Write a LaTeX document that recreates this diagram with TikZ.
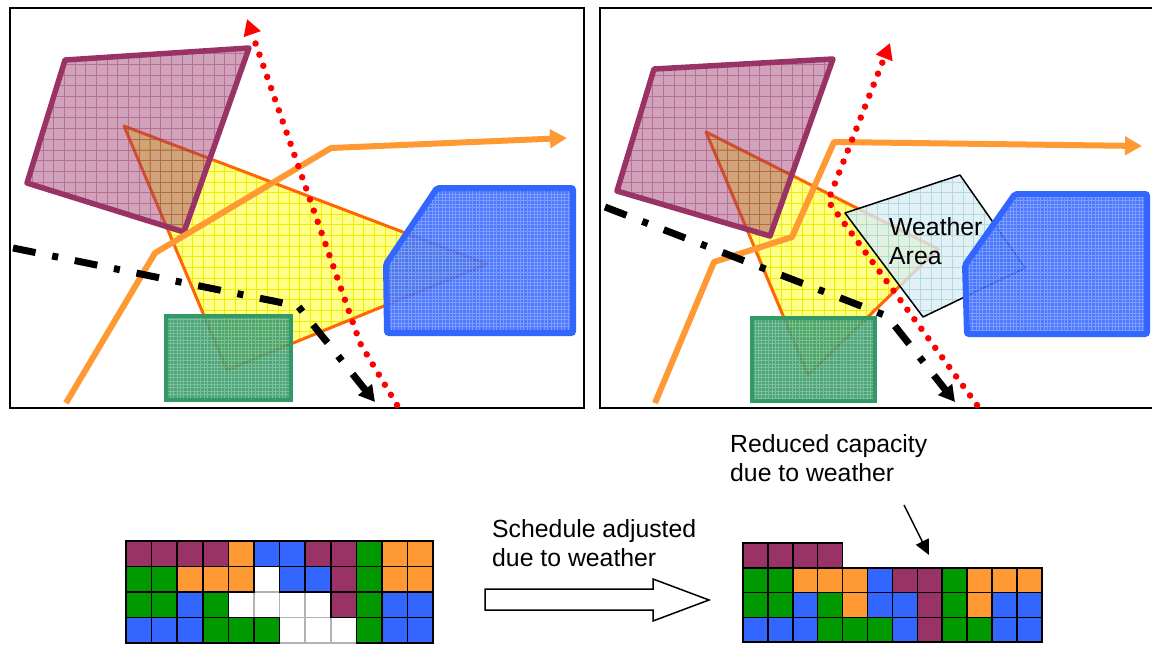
\documentclass[tikz,border=0pt]{standalone}
\usepackage{fontspec}
\setmainfont{Liberation Sans}
\usetikzlibrary{arrows.meta}

\definecolor{plum}{HTML}{993366}
\definecolor{routeorange}{HTML}{FF9933}
\definecolor{zoneorange}{HTML}{FF6600}
\definecolor{skyblue}{HTML}{3366FF}
\definecolor{leaf}{HTML}{009900}
\definecolor{sea}{HTML}{339966}
\definecolor{paleyellow}{HTML}{FFFF88}
\definecolor{gridyellow}{HTML}{EEEE00}
\definecolor{wxfill}{HTML}{DAEEF3}
\definecolor{wxgrid}{HTML}{A8D4DC}

% fill a closed path with a colour and a clipped grid texture
\newcommand\meshfill[6]{%
  \begin{scope}
    \clip #1;
    \fill[#2] #1;
    \draw[#3] #5 grid[step=#4] #6;
  \end{scope}}

\tikzset{
  panel/.style={draw=black, line width=1.5pt},
  lbl/.style={anchor=base west, inner sep=0pt, font=\fontsize{24.8}{29}\selectfont},
  plumedge/.style={draw=plum, line width=5.5pt, line join=round},
  zoneedge/.style={draw=zoneorange, line width=3pt, line join=round},
  seaedge/.style={draw=sea, line width=4.5pt},
  blueedge/.style={draw=skyblue, line width=6pt, rounded corners=2pt},
  wxedge/.style={draw=black, line width=1.5pt, line join=round},
  route/.style={draw=routeorange, line width=6pt, line join=round,
    -{Triangle[length=17pt,width=18pt]}},
  dashdot/.style={draw=black, line width=7pt,
    dash pattern=on 23pt off 17pt on 6pt off 17pt,
    -{Triangle[length=16pt,width=17pt]}},
  reddots/.style={draw=red, line width=6.5pt, line cap=round,
    dash pattern=on 0pt off 11.8pt,
    -{Triangle[length=16pt,width=17pt]}},
  % schedule cells: fill pass and edge pass
  fP/.style={fill=plum}, fO/.style={fill=routeorange},
  fB/.style={fill=skyblue}, fG/.style={fill=leaf},
  fW/.style={fill=white}, fN/.style={},
  eP/.style={draw=black}, eO/.style={draw=black},
  eB/.style={draw=black}, eG/.style={draw=black},
  eW/.style={}, eN/.style={},
}

\begin{document}
\begin{tikzpicture}[x=1pt, y=-1pt]
\useasboundingbox (0,0) rectangle (1152,646);
\fill[white] (0,0) rectangle (1152,646);

% ---------------- left map ----------------
\draw[panel] (10,8) rectangle (584,408);

\coordinate (zA1) at (124,126); \coordinate (zA2) at (487,264); \coordinate (zA3) at (227,370);
\meshfill{(zA1) -- (zA2) -- (zA3) -- cycle}{paleyellow}{gridyellow, line width=0.8pt}{10.7pt}{(110,110)}{(500,380)}
\draw[zoneedge] (zA1) -- (zA2) -- (zA3) -- cycle;

\coordinate (pA1) at (65,60); \coordinate (pA2) at (249,48); \coordinate (pA3) at (184,232); \coordinate (pA4) at (27,183);
\meshfill{(pA1) -- (pA2) -- (pA3) -- (pA4) -- cycle}{plum, fill opacity=0.45}{plum, line width=0.6pt, opacity=0.45}{10.7pt}{(20,40)}{(260,240)}
\draw[plumedge] (pA1) -- (pA2) -- (pA3) -- (pA4) -- cycle;

\coordinate (gA1) at (166,316); \coordinate (gA2) at (291,400);
\meshfill{(gA1) rectangle (gA2)}{sea, fill opacity=0.88}{white, line width=0.6pt, opacity=0.28}{3.4pt}{(160,310)}{(300,405)}
\draw[seaedge] (gA1) rectangle (gA2);

\coordinate (bA1) at (437,188); \coordinate (bA2) at (573,188); \coordinate (bA3) at (573,333);
\coordinate (bA4) at (387,333); \coordinate (bA5) at (386,264);
\meshfill{(bA1) -- (bA2) -- (bA3) -- (bA4) -- (bA5) -- cycle}{skyblue, fill opacity=0.88}{white, line width=0.6pt, opacity=0.28}{3.4pt}{(380,180)}{(580,340)}
\draw[blueedge] (bA1) -- (bA2) -- (bA3) -- (bA4) -- (bA5) -- cycle;

\coordinate (rA0) at (66,403); \coordinate (rA1) at (155,253); \coordinate (rA2) at (331,148); \coordinate (rA3) at (567,138);
\draw[route] (rA0) -- (rA1) -- (rA2) -- (rA3);

\coordinate (kA0) at (13,248); \coordinate (kA1) at (298,306); \coordinate (kA2) at (375,402);
\draw[dashdot] (kA0) -- (kA1) -- (kA2);

\coordinate (dA0) at (397,405); \coordinate (dA1) at (360,343); \coordinate (dA2) at (247,19);
\draw[reddots] (dA0) -- (dA1) -- (dA2);

% ---------------- right map ----------------
\draw[panel] (600,8) rectangle (1153,408);

\coordinate (zB1) at (706,132); \coordinate (zB2) at (938,249); \coordinate (zB3) at (808,375);
\meshfill{(zB1) -- (zB2) -- (zB3) -- cycle}{paleyellow}{gridyellow, line width=0.8pt}{10.7pt}{(690,120)}{(950,380)}
\draw[zoneedge] (zB1) -- (zB2) -- (zB3) -- cycle;

\coordinate (pB1) at (654,69); \coordinate (pB2) at (833,59); \coordinate (pB3) at (770,236); \coordinate (pB4) at (617,191);
\meshfill{(pB1) -- (pB2) -- (pB3) -- (pB4) -- cycle}{plum, fill opacity=0.45}{plum, line width=0.6pt, opacity=0.45}{10.7pt}{(610,50)}{(840,240)}
\draw[plumedge] (pB1) -- (pB2) -- (pB3) -- (pB4) -- cycle;

\coordinate (wB1) at (845,213); \coordinate (wB2) at (960,175); \coordinate (wB3) at (1025,268); \coordinate (wB4) at (923,317);
\meshfill{(wB1) -- (wB2) -- (wB3) -- (wB4) -- cycle}{wxfill, fill opacity=0.8}{wxgrid, line width=0.8pt, opacity=0.8}{10.7pt}{(840,170)}{(1030,320)}
\draw[wxedge] (wB1) -- (wB2) -- (wB3) -- (wB4) -- cycle;

\coordinate (gB1) at (752,318); \coordinate (gB2) at (875,401);
\meshfill{(gB1) rectangle (gB2)}{sea, fill opacity=0.88}{white, line width=0.6pt, opacity=0.28}{3.4pt}{(745,310)}{(880,405)}
\draw[seaedge] (gB1) rectangle (gB2);

\coordinate (bB1) at (1015,194); \coordinate (bB2) at (1147,194); \coordinate (bB3) at (1147,334);
\coordinate (bB4) at (967,334); \coordinate (bB5) at (965,265);
\meshfill{(bB1) -- (bB2) -- (bB3) -- (bB4) -- (bB5) -- cycle}{skyblue, fill opacity=0.88}{white, line width=0.6pt, opacity=0.28}{3.4pt}{(960,185)}{(1152,340)}
\draw[blueedge] (bB1) -- (bB2) -- (bB3) -- (bB4) -- (bB5) -- cycle;

\coordinate (rB0) at (655,403); \coordinate (rB1) at (714,262); \coordinate (rB2) at (792,237);
\coordinate (rB3) at (834,142); \coordinate (rB4) at (1142,146);
\draw[route] (rB0) -- (rB1) -- (rB2) -- (rB3) -- (rB4);

\node[lbl] (wxA) at (889,235) {Weather};
\node[lbl] (wxB) at (889,264) {Area};

\coordinate (kB0) at (605,207); \coordinate (kB1) at (887,316); \coordinate (kB2) at (955,402);
\draw[dashdot] (kB0) -- (kB1) -- (kB2);

\coordinate (dB0) at (977,405); \coordinate (dB1) at (828,201); \coordinate (dB2) at (890,43);
\draw[reddots] (dB0) -- (dB1) -- (dB2);

% ---------------- schedules ----------------
% before: 12 x 4 slots
\foreach \row [count=\r from 0] in {{P,P,P,P,O,B,B,P,P,G,O,O},{G,G,O,O,O,W,B,B,P,G,O,O},{G,G,B,G,W,W,W,W,P,G,B,B},{B,B,B,G,G,G,W,W,W,G,B,B}}{
  \foreach \c [count=\k from 0] in \row {
    \path[f\c, draw=gray!60, line width=1.5pt] ({126+25.6*\k},{541+25.5*\r}) rectangle +(25.6,25.5);
  }}
\foreach \row [count=\r from 0] in {{P,P,P,P,O,B,B,P,P,G,O,O},{G,G,O,O,O,W,B,B,P,G,O,O},{G,G,B,G,W,W,W,W,P,G,B,B},{B,B,B,G,G,G,W,W,W,G,B,B}}{
  \foreach \c [count=\k from 0] in \row {
    \path[e\c, line width=1.5pt] ({126+25.6*\k},{541+25.5*\r}) rectangle +(25.6,25.5);
  }}

% after: capacity reduced
\foreach \row [count=\r from 0] in {{P,P,P,P,N,N,N,N,N,N,N,N},{G,G,O,O,O,B,P,P,G,O,O,O},{G,G,B,G,O,B,B,P,G,O,B,B},{B,B,B,G,G,G,B,P,G,G,B,B}}{
  \foreach \c [count=\k from 0] in \row {
    \path[f\c] ({743+24.9*\k},{543+24.8*\r}) rectangle +(24.9,24.8);
  }}
\foreach \row [count=\r from 0] in {{P,P,P,P,N,N,N,N,N,N,N,N},{G,G,O,O,O,B,P,P,G,O,O,O},{G,G,B,G,O,B,B,P,G,O,B,B},{B,B,B,G,G,G,B,P,G,G,B,B}}{
  \foreach \c [count=\k from 0] in \row {
    \path[e\c, line width=1.5pt] ({743+24.9*\k},{543+24.8*\r}) rectangle +(24.9,24.8);
  }}

% transition arrow and labels
\draw[line width=1.5pt, fill=white, line join=miter]
  (485,589) -- (653,589) -- (653,579) -- (709,600) -- (653,621) -- (653,610) -- (485,610) -- cycle;
\node[lbl] (schedA) at (492,537) {Schedule adjusted};
\node[lbl] (schedB) at (492,566) {due to weather};

\node[lbl] (capA) at (730,452) {Reduced capacity};
\node[lbl] (capB) at (730,481) {due to weather};
\coordinate (capTail) at (904,505);
\coordinate (capTip) at (929,555);
\draw[line width=1.5pt, -{Triangle[length=15pt,width=14pt]}] (capTail) -- (capTip);
\end{tikzpicture}
\end{document}
